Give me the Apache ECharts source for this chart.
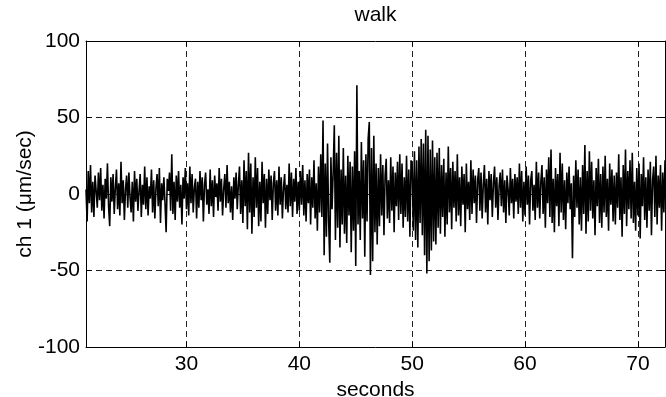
<!DOCTYPE html>
<html>
<head>
<meta charset="utf-8">
<script src="https://cdn.jsdelivr.net/npm/echarts@6/dist/echarts.min.js"></script>
<style>
  html, body { margin: 0; padding: 0; background: #fff; }
  #chart { width: 666px; height: 397px; }
</style>
</head>
<body>
<div id="chart"></div>
<script>
// sample spacing (s) and first sample time
const t0 = 21.1
const dt = 0.1

// ch 1 velocity (µm/sec) in 0.1 s steps
const seg21 = [
  3, -18, 15, -6, 19, -12, 8, -15, 12, 2,
  -9, 14, -4, 17, -11, 6, -16, 10, -3, 20,
  -8, -21, 11, -5, 13, -13, 4, 16, -10, 7,
  -14, 21, -6, 9, -17, 3, 12, -9, 14, -2,
  -12, 8, -18, 15, -5, 10, -11, 2, 13, -15,
  6, -7, 18, -10, 11, -14, 5, -3, 16, -12,
  9, -16, 4, 13, -8, 17, -19, 7, -4, 11,
  -6, -25, 10, 2, 14, -11, 26, -13, 8, -17,
  12, -5, 15, -9, 6, -20, 11, -3, 17
]
const seg30 = [
  -10, 7, -14, 18, -6, 13, -12, 4, 10, -16,
  8, -9, 15, -4, 11, -18, 6, 14, -7, 3,
  -13, 16, -8, 9, -15, 12, -2, 7, -11, 17,
  -5, 10, -14, 3, 13, -9, 19, -6, 8, -12,
  5, -17, 11, -3, 14, -10, 6, 18, -13, 9,
  -19, 22, -8, 15, -23, 27, -12, 20, -26, 11,
  -15, 24, -9, 17, -21, 8, -18, 21, -6, 13,
  -22, 10, -13, 16, -4, 12, -17, 7, 15, -11,
  9, -14, 18, -7, 11, -16, 4, 13, -10, 6,
  -12, 20, -8, 14, -15, 10, -5, 17, -13, 8
]
const seg40 = [
  -11, 15, -7, 19, -14, 9, -18, 13, -6, 16,
  -20, 11, -9, 22, -16, 7, -24, 18, -12, 26,
  -15, 48, -40, 20, -28, 33, -18, -45, 24, -10,
  14, 45, -30, 27, -22, 38, -35, 16, -20, 30,
  -26, 12, -32, 25, -14, 21, -38, 18, -24, 28,
  -47, 71, -20, 15, -30, 34, -16, 22, -41, 26,
  -18, 36, 47, -53, 30, -44, 38, -25, 20, -33,
  17, -21, 26, -14, 19, -27, 12, 23, -16, 9,
  -19, 24, -11, 18, -25, 14, -8, 21, -17, 26,
  -13, 20, -22, 11, -15, 25, -18, 16, -28, 22
]
const seg50 = [
  18, -24, 28, -30, 22, -35, 31, -19, 36, -27,
  33, -40, 42, -52, 38, -44, 29, -37, 35, -31,
  24, -33, 27, -22, 30, -26, 19, -15, 23, -28,
  14, -20, 31, -12, 17, -23, 21, -9, 15, -18,
  26, -14, 11, -21, 18, -7, 13, -25, 20, -10,
  8, -17, 22, -13, 16, -6, 12, -19, 9, 17,
  -11, 14, -16, 6, 19, -12, 10, -20, 15, -4,
  13, -15, 7, 18, -9, 11, -17, 5, 14, -8,
  16, -12, 9, -19, 12, 3, -14, 17, -6, 10,
  -16, 13, -5, 11, -13, 20, -9, 15, -18, 8
]
const seg60 = [
  -14, 18, -7, 12, -20, 9, 15, -11, 6, -17,
  21, -9, 14, -16, 8, 19, -13, 11, -22, 16,
  -6, 24, -15, 29, -19, 10, -25, 17, -8, 13,
  -21, 27, -12, 20, -17, 9, -23, 14, -6, 18,
  -10, 7, -42, 12, -15, 22, -9, 16, -20, 11,
  -24, 19, -13, 32, -26, 15, -18, 28, -11, 21,
  -16, 9, -27, 17, -8, 23, -19, 13, -22, 18,
  -12, 25, -15, 10, -24, 20, -7, 16, -18, 12,
  -20, 14, -9, 26, -17, 11, -28, 19, -13, 29,
  -21, 15, -10, 22, -16, 27, -19, 8, -24, 17,
  -14, 20, -29, 13, -8, 24, -17, 11, -22, 16,
  -11, 21, -27, 9, 18, -15, 25, -20, 12, -9,
  19, -24, 14, -12, 22
]

const xTicks = [30, 40, 50, 60, 70]
const yTicks = [-100, -50, 0, 50, 100]

const trace = [].concat(seg21, seg30, seg40, seg50, seg60)
const points = trace.map((v, i) => [+(t0 + i * dt).toFixed(2), v])
const xMin = t0
const xMax = points[points.length - 1][0]

const font = { color: '#000', fontSize: 21, fontFamily: 'Liberation Sans, Arial, sans-serif' }
const gridLine = { show: true, lineStyle: { color: '#222', width: 1, type: [6, 4] } }
const tickIn = { show: true, inside: true, length: 5, lineStyle: { color: '#000' } }
const axisLn = { show: true, onZero: false, lineStyle: { color: '#000', width: 1 } }

const chart = echarts.init(document.getElementById('chart'), null, { renderer: 'canvas' })
chart.setOption({
  animation: false,
  backgroundColor: '#fff',
  grid: { left: 86, right: 1, top: 41, bottom: 50, containLabel: false, outerBoundsMode: 'none' },
  xAxis: [
    {
      type: 'value', min: xMin, max: xMax, position: 'bottom',
      axisLine: axisLn, axisTick: tickIn, splitLine: gridLine,
      axisLabel: {
        ...font, margin: 7,
        formatter: (v) => xTicks.some((t) => Math.abs(t - v) < 1e-6) ? String(Math.round(v)) : '',
      },
      name: 'seconds', nameLocation: 'middle', nameGap: 26, nameTextStyle: font,
    },
    {
      type: 'value', min: xMin, max: xMax, position: 'top',
      axisLine: axisLn, axisTick: tickIn, splitLine: { show: false }, axisLabel: { show: false },
      name: 'walk', nameLocation: 'middle', nameGap: 15, nameTextStyle: font,
    },
  ],
  yAxis: [
    {
      type: 'value', min: yTicks[0], max: yTicks[yTicks.length - 1], interval: 50, position: 'left',
      axisLine: axisLn, axisTick: tickIn, splitLine: gridLine,
      axisLabel: { ...font, margin: 6 },
      name: 'ch 1 (μm/sec)', nameLocation: 'middle', nameGap: 50, nameRotate: 90,
      nameMoveOverlap: false, nameTextStyle: font,
    },
    {
      type: 'value', min: yTicks[0], max: yTicks[yTicks.length - 1], interval: 50, position: 'right',
      axisLine: axisLn, axisTick: tickIn, splitLine: { show: false }, axisLabel: { show: false },
    },
  ],
  series: [
    {
      type: 'line',
      data: points,
      showSymbol: false,
      sampling: 'none',
      lineStyle: { color: '#000', width: 1.6 },
      z: 3,
    },
  ],
})
</script>
</body>
</html>
